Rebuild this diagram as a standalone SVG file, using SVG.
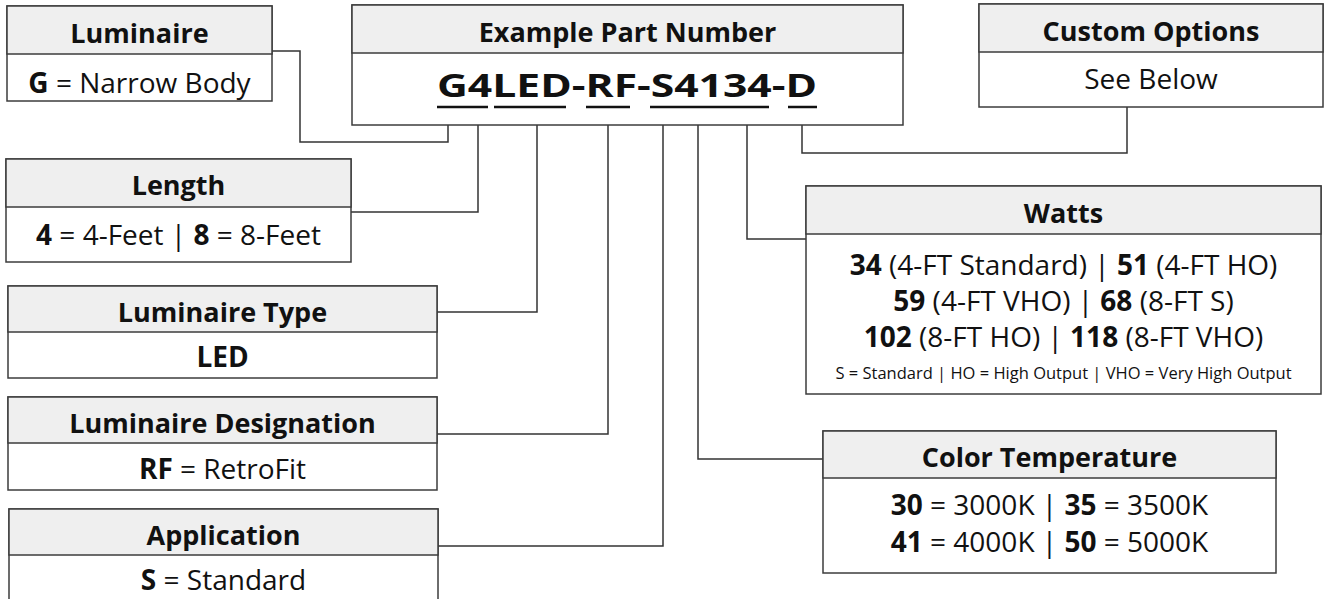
<svg xmlns="http://www.w3.org/2000/svg" width="1325" height="599" viewBox="0 0 1325 599">
  <style>
    .box { fill: #ffffff; stroke: #3c3c3c; stroke-width: 1.5; }
    .hdr { fill: #efefef; stroke: #3c3c3c; stroke-width: 1.5; }
    .conn { fill: none; stroke: #333333; stroke-width: 1.5; }
    .ul { stroke: #111111; stroke-width: 2.5; }
    text { font-family: "Open Sans", "Noto Sans", "DejaVu Sans", sans-serif; fill: #111111; text-anchor: middle; }
    .h { font-size: 27px; font-weight: 700; }
    .b { font-size: 28px; font-weight: 400; }
    .s { font-size: 16.5px; font-weight: 400; }
    .k { font-weight: 700; }
    .pn { font-size: 32px; font-weight: 700; text-anchor: start; }
  </style>

  <g id="connectors">
    <polyline class="conn" points="272,51 300,51 300,142 448,142 448,125"/>
    <polyline class="conn" points="351,212 478,212 478,125"/>
    <polyline class="conn" points="437,312 537,312 537,125"/>
    <polyline class="conn" points="437,434 608,434 608,125"/>
    <polyline class="conn" points="438,546 663,546 663,125"/>
    <polyline class="conn" points="823,459 698,459 698,125"/>
    <polyline class="conn" points="806,239 747,239 747,125"/>
    <polyline class="conn" points="802,125 802,153 1127,153 1127,107"/>
  </g>

  <g id="luminaire">
    <rect class="box" x="7" y="6" width="265" height="95"/>
    <rect class="hdr" x="7" y="6" width="265" height="48"/>
    <text class="h" x="139.5" y="43">Luminaire</text>
    <text class="b" x="139.5" y="93"><tspan class="k">G</tspan> = Narrow Body</text>
  </g>

  <g id="part-number">
    <rect class="box" x="352" y="5" width="551" height="120"/>
    <rect class="hdr" x="352" y="5" width="551" height="48"/>
    <text class="h" x="627.5" y="42">Example Part Number</text>
    <text class="pn" x="437" y="97" textLength="380" lengthAdjust="spacingAndGlyphs">G4LED-RF-S4134-D</text>
    <line class="ul" x1="437" y1="107" x2="488" y2="107"/>
    <line class="ul" x1="494" y1="107" x2="566" y2="107"/>
    <line class="ul" x1="586" y1="107" x2="630" y2="107"/>
    <line class="ul" x1="650" y1="107" x2="769" y2="107"/>
    <line class="ul" x1="788" y1="107" x2="817" y2="107"/>
  </g>

  <g id="custom-options">
    <rect class="box" x="979" y="4" width="344" height="103"/>
    <rect class="hdr" x="979" y="4" width="344" height="48"/>
    <text class="h" x="1151" y="41">Custom Options</text>
    <text class="b" x="1151" y="89">See Below</text>
  </g>

  <g id="length">
    <rect class="box" x="6" y="159" width="345" height="103"/>
    <rect class="hdr" x="6" y="159" width="345" height="48"/>
    <text class="h" x="178.5" y="195">Length</text>
    <text class="b" x="178.5" y="245"><tspan class="k">4</tspan> = 4-Feet | <tspan class="k">8</tspan> = 8-Feet</text>
  </g>

  <g id="luminaire-type">
    <rect class="box" x="8" y="286" width="429" height="92"/>
    <rect class="hdr" x="8" y="286" width="429" height="46"/>
    <text class="h" x="222.5" y="322">Luminaire Type</text>
    <text class="b k" x="222.5" y="367">LED</text>
  </g>

  <g id="luminaire-designation">
    <rect class="box" x="8" y="397" width="429" height="93"/>
    <rect class="hdr" x="8" y="397" width="429" height="46"/>
    <text class="h" x="222.5" y="433">Luminaire Designation</text>
    <text class="b" x="222.5" y="479"><tspan class="k">RF</tspan> = RetroFit</text>
  </g>

  <g id="application">
    <rect class="box" x="9" y="509" width="429" height="100"/>
    <rect class="hdr" x="9" y="509" width="429" height="46"/>
    <text class="h" x="223.5" y="545">Application</text>
    <text class="b" x="223.5" y="590"><tspan class="k">S</tspan> = Standard</text>
  </g>

  <g id="watts">
    <rect class="box" x="806" y="186" width="515" height="208"/>
    <rect class="hdr" x="806" y="186" width="515" height="48"/>
    <text class="h" x="1063.5" y="223">Watts</text>
    <text class="b" x="1063.5" y="275"><tspan class="k">34</tspan> (4-FT Standard) | <tspan class="k">51</tspan> (4-FT HO)</text>
    <text class="b" x="1063.5" y="311"><tspan class="k">59</tspan> (4-FT VHO) | <tspan class="k">68</tspan> (8-FT S)</text>
    <text class="b" x="1063.5" y="347"><tspan class="k">102</tspan> (8-FT HO) | <tspan class="k">118</tspan> (8-FT VHO)</text>
    <text class="s" x="1063.5" y="379">S = Standard | HO = High Output | VHO = Very High Output</text>
  </g>

  <g id="color-temperature">
    <rect class="box" x="823" y="431" width="453" height="142"/>
    <rect class="hdr" x="823" y="431" width="453" height="47"/>
    <text class="h" x="1049.5" y="467">Color Temperature</text>
    <text class="b" x="1049.5" y="515"><tspan class="k">30</tspan> = 3000K | <tspan class="k">35</tspan> = 3500K</text>
    <text class="b" x="1049.5" y="552"><tspan class="k">41</tspan> = 4000K | <tspan class="k">50</tspan> = 5000K</text>
  </g>
</svg>
